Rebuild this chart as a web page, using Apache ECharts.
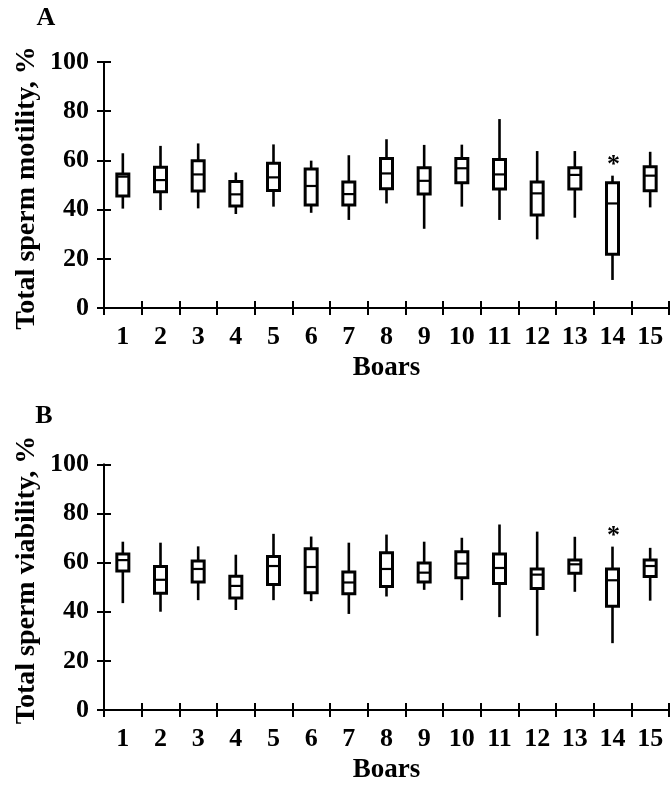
<!DOCTYPE html>
<html>
<head>
<meta charset="utf-8">
<script src="https://cdn.jsdelivr.net/npm/echarts@6/dist/echarts.min.js"></script>
<style>
html,body{margin:0;padding:0;background:#fff;}
#chart{width:670px;height:785px;}
</style>
</head>
<body>
<div id="chart"></div>
<script>
const boars = ['1','2','3','4','5','6','7','8','9','10','11','12','13','14','15'];
const yTicks = [0, 20, 40, 60, 80, 100];

const motilityMax    = [62.9, 65.9, 66.9, 55.1, 66.5, 59.9, 62.1, 68.6, 66.3, 66.4, 76.8, 63.8, 63.8, 53.8, 63.5];
const motilityQ3     = [54.5, 57.2, 59.9, 51.4, 58.8, 56.5, 51.2, 60.8, 57.0, 60.8, 60.4, 51.2, 57.0, 50.9, 57.4];
const motilityMedian = [53.4, 52.0, 54.3, 46.2, 53.1, 49.6, 46.3, 54.7, 51.7, 56.8, 54.3, 46.6, 54.1, 42.5, 53.8];
const motilityQ1     = [45.5, 47.3, 47.6, 41.5, 47.8, 41.9, 41.9, 48.5, 46.3, 50.9, 48.4, 37.8, 48.4, 21.8, 47.7];
const motilityMin    = [40.4, 39.8, 40.5, 38.2, 41.2, 38.7, 35.8, 42.5, 32.2, 41.2, 35.8, 27.9, 36.7, 11.4, 40.9];

const viabilityMax    = [68.5, 68.1, 66.6, 63.2, 71.7, 70.6, 68.1, 71.4, 68.5, 70.1, 75.5, 72.6, 70.5, 66.5, 66.0];
const viabilityQ3     = [63.5, 58.4, 60.6, 54.4, 62.5, 65.6, 56.2, 64.0, 59.8, 64.4, 63.5, 57.4, 61.0, 57.4, 61.0];
const viabilityMedian = [61.0, 53.0, 57.4, 50.5, 58.6, 58.2, 51.9, 57.4, 55.9, 59.6, 57.8, 55.1, 59.3, 52.8, 58.6];
const viabilityQ1     = [56.6, 47.5, 52.1, 45.6, 51.1, 47.7, 47.3, 50.3, 52.1, 53.8, 51.5, 49.5, 55.7, 42.2, 54.3];
const viabilityMin    = [43.5, 40.0, 44.7, 40.7, 44.7, 44.3, 39.1, 46.2, 48.9, 44.7, 37.8, 30.2, 48.1, 27.2, 44.5];

const significantBoars = ['14'];

const FONT = "'Liberation Serif', 'Times New Roman', serif";

function buildData(mn, q1, md, q3, mx) {
  return boars.map((b, i) => [i, mn[i], q1[i], md[i], q3[i], mx[i]]);
}

function renderBox(params, api) {
  const x = api.value(0);
  const pMin = api.coord([x, api.value(1)]);
  const pQ1 = api.coord([x, api.value(2)]);
  const pMed = api.coord([x, api.value(3)]);
  const pQ3 = api.coord([x, api.value(4)]);
  const pMax = api.coord([x, api.value(5)]);
  const half = 6;
  const cx = pMed[0];
  const children = [
    {type: 'line', shape: {x1: cx, y1: pMax[1], x2: cx, y2: pQ3[1]}, style: {stroke: '#000', lineWidth: 2.6}},
    {type: 'line', shape: {x1: cx, y1: pQ1[1], x2: cx, y2: pMin[1]}, style: {stroke: '#000', lineWidth: 2.6}},
    {type: 'rect', shape: {x: cx - half, y: pQ3[1], width: half * 2, height: pQ1[1] - pQ3[1]}, style: {fill: '#fff', stroke: '#000', lineWidth: 3}},
    {type: 'line', shape: {x1: cx - half, y1: pMed[1], x2: cx + half, y2: pMed[1]}, style: {stroke: '#000', lineWidth: 2.2}}
  ];
  if (significantBoars.indexOf(boars[params.dataIndex]) >= 0) {
    children.push({type: 'text', x: cx + 1, y: pMax[1] + 2.5, style: {text: '*', fill: '#000', font: 'bold 26px ' + FONT, textAlign: 'center', textVerticalAlign: 'bottom'}});
  }
  return {type: 'group', children: children};
}

function xAxes(gridIndex) {
  return [
    {
      type: 'category', gridIndex: gridIndex, data: boars, position: 'bottom', boundaryGap: true,
      axisLine: {show: true, onZero: false, lineStyle: {color: '#000', width: 2}},
      axisTick: {show: true, inside: false, length: 7, alignWithLabel: false, lineStyle: {color: '#000', width: 2}},
      axisLabel: {show: true, color: '#000', fontFamily: FONT, fontWeight: 'bold', fontSize: 26, margin: 16},
      name: 'Boars', nameLocation: 'middle', nameGap: 47,
      nameTextStyle: {color: '#000', fontFamily: FONT, fontWeight: 'bold', fontSize: 27},
      splitLine: {show: false}
    },
    {
      type: 'category', gridIndex: gridIndex, data: boars, position: 'bottom', boundaryGap: true,
      axisLine: {show: false, onZero: false},
      axisTick: {show: true, inside: true, length: 7, lineStyle: {color: '#000', width: 2}},
      axisLabel: {show: false}, splitLine: {show: false}
    }
  ];
}

function yAxes(gridIndex) {
  return [
    {
      type: 'value', gridIndex: gridIndex, min: yTicks[0], max: yTicks[yTicks.length - 1], interval: 20, position: 'left',
      axisLine: {show: true, onZero: false, lineStyle: {color: '#000', width: 2}},
      axisTick: {show: true, inside: false, length: 7, lineStyle: {color: '#000', width: 2}},
      axisLabel: {show: true, color: '#000', fontFamily: FONT, fontWeight: 'bold', fontSize: 26, margin: 15},
      splitLine: {show: false}
    },
    {
      type: 'value', gridIndex: gridIndex, min: yTicks[0], max: yTicks[yTicks.length - 1], interval: 20, position: 'left',
      axisLine: {show: false, onZero: false},
      axisTick: {show: true, inside: true, length: 7, lineStyle: {color: '#000', width: 2}},
      axisLabel: {show: false}, splitLine: {show: false}
    }
  ];
}

const chart = echarts.init(document.getElementById('chart'), null, {renderer: 'canvas'});

const option = {
  animation: false,
  backgroundColor: '#fff',
  grid: [
    {left: 104, width: 565, top: 62, height: 246},
    {left: 104, width: 565, top: 464.3, height: 247.4}
  ],
  xAxis: [].concat(xAxes(0), xAxes(1)),
  yAxis: [].concat(yAxes(0), yAxes(1)),
  graphic: [
    {type: 'text', x: 46, y: 18, style: {text: 'A', fill: '#000', font: 'bold 26px ' + FONT, textAlign: 'center', textVerticalAlign: 'middle'}},
    {type: 'text', x: 44, y: 416, style: {text: 'B', fill: '#000', font: 'bold 26px ' + FONT, textAlign: 'center', textVerticalAlign: 'middle'}},
    {type: 'text', x: 27, y: 188, rotation: Math.PI / 2, style: {text: 'Total sperm motility, %', fill: '#000', font: 'bold 28px ' + FONT, textAlign: 'center', textVerticalAlign: 'middle'}},
    {type: 'text', x: 27, y: 580, rotation: Math.PI / 2, style: {text: 'Total sperm viability, %', fill: '#000', font: 'bold 28px ' + FONT, textAlign: 'center', textVerticalAlign: 'middle'}}
  ],
  series: [
    {
      type: 'custom', name: 'Total sperm motility', xAxisIndex: 0, yAxisIndex: 0,
      data: buildData(motilityMin, motilityQ1, motilityMedian, motilityQ3, motilityMax),
      encode: {x: 0, y: [1, 2, 3, 4, 5]},
      renderItem: renderBox, clip: false
    },
    {
      type: 'custom', name: 'Total sperm viability', xAxisIndex: 2, yAxisIndex: 2,
      data: buildData(viabilityMin, viabilityQ1, viabilityMedian, viabilityQ3, viabilityMax),
      encode: {x: 0, y: [1, 2, 3, 4, 5]},
      renderItem: renderBox, clip: false
    }
  ]
};
chart.setOption(option);
</script>
</body>
</html>
